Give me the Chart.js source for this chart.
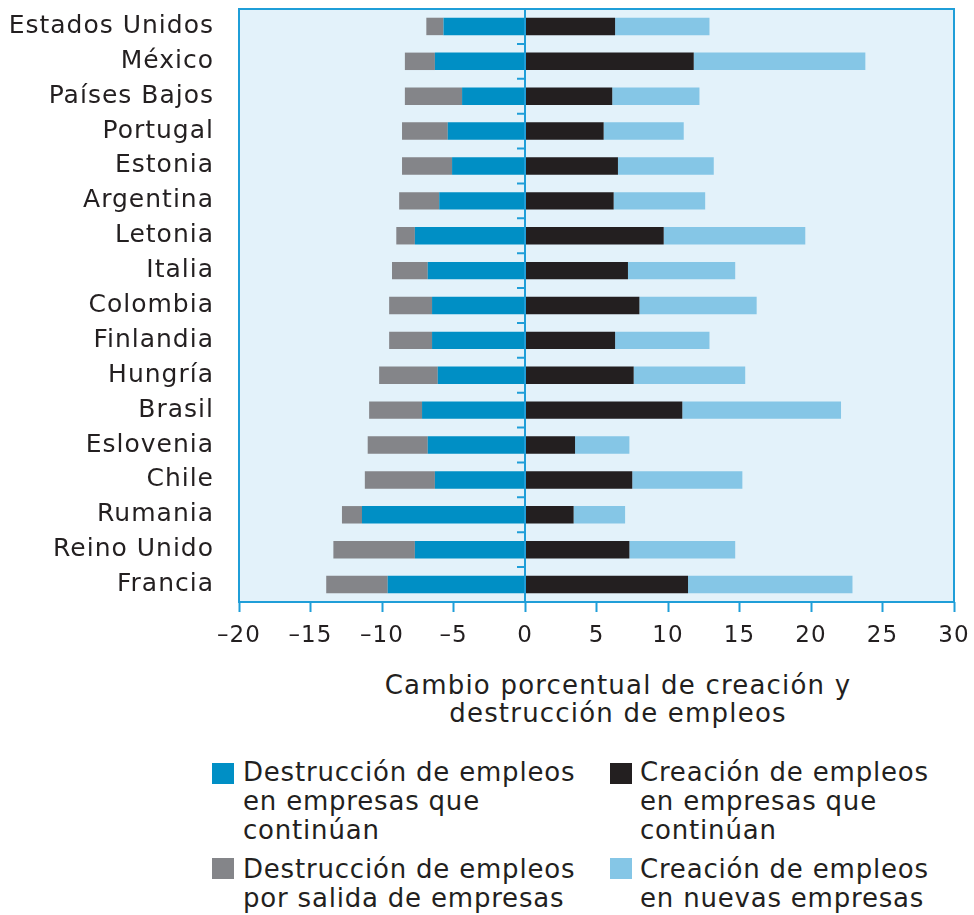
<!DOCTYPE html>
<html lang="es">
<head>
<meta charset="utf-8">
<script src="https://cdn.jsdelivr.net/npm/chart.js@4"></script>
<style>
  html, body { margin: 0; padding: 0; background: #fff; }
  #wrap { position: relative; width: 974px; height: 915px; font-family: "DejaVu Sans", sans-serif; color: #231f20; }
  #myChart { position: absolute; left: 0; top: 0; }
  .axis-title { position: absolute; left: 618px; top: 671px; transform: translateX(-50%); text-align: center; white-space: nowrap; font-size: 26px; line-height: 28px; letter-spacing: 1.2px; }
  .leg { position: absolute; font-size: 26px; line-height: 29px; letter-spacing: 0.8px; white-space: nowrap; }
  .sw { position: absolute; width: 22px; height: 21px; }
</style>
</head>
<body>
<div id="wrap">
  <canvas id="myChart" width="974" height="665"></canvas>
  <div class="axis-title">Cambio porcentual de creación y<br>destrucción de empleos</div>

  <div class="sw" style="left:212px; top:763px; background:#008fc5"></div>
  <div class="leg" style="left:243px; top:758px">Destrucción de empleos<br>en empresas que<br>continúan</div>
  <div class="sw" style="left:610px; top:763px; background:#231f20"></div>
  <div class="leg" style="left:640px; top:758px">Creación de empleos<br>en empresas que<br>continúan</div>
  <div class="sw" style="left:212px; top:858px; background:#848589"></div>
  <div class="leg" style="left:243px; top:855px">Destrucción de empleos<br>por salida de empresas</div>
  <div class="sw" style="left:610px; top:858px; background:#85c6e6"></div>
  <div class="leg" style="left:640px; top:855px">Creación de empleos<br>en nuevas empresas</div>
</div>

<script>
const countries = ['Estados Unidos', 'México', 'Países Bajos', 'Portugal', 'Estonia', 'Argentina',
  'Letonia', 'Italia', 'Colombia', 'Finlandia', 'Hungría', 'Brasil', 'Eslovenia', 'Chile',
  'Rumania', 'Reino Unido', 'Francia'];

// destrucción en empresas que continúan (negativo)
const destContinuan = [-5.7, -6.3, -4.4, -5.4, -5.1, -6.0, -7.7, -6.8, -6.5, -6.5, -6.1, -7.2, -6.8, -6.3, -11.4, -7.7, -9.6];
// destrucción por salida de empresas (negativo)
const destSalida = [-1.2, -2.1, -4.0, -3.2, -3.5, -2.8, -1.3, -2.5, -3.0, -3.0, -4.1, -3.7, -4.2, -4.9, -1.4, -5.7, -4.3];
// creación en empresas que continúan
const creaContinuan = [6.3, 11.8, 6.1, 5.5, 6.5, 6.2, 9.7, 7.2, 8.0, 6.3, 7.6, 11.0, 3.5, 7.5, 3.4, 7.3, 11.4];
// creación en nuevas empresas
const creaNuevas = [6.6, 12.0, 6.1, 5.6, 6.7, 6.4, 9.9, 7.5, 8.2, 6.6, 7.8, 11.1, 3.8, 7.7, 3.6, 7.4, 11.5];

const xTicks = [-20, -15, -10, -5, 0, 5, 10, 15, 20, 25, 30];

const frameBlue = '#1f9ed8';
const textColor = '#231f20';

// fondo, marco, línea del cero y marcas entre categorías
const plotFrame = {
  id: 'plotFrame',
  beforeDraw(chart) {
    const { ctx, chartArea: a } = chart;
    ctx.save();
    ctx.fillStyle = '#e3f2fa';
    ctx.fillRect(a.left, a.top, a.right - a.left, a.bottom - a.top);
    ctx.restore();
  },
  afterDatasetsDraw(chart) {
    const { ctx, chartArea: a, scales } = chart;
    const x0 = scales.x.getPixelForValue(0);
    ctx.save();
    ctx.strokeStyle = frameBlue;
    ctx.lineWidth = 2;
    ctx.strokeRect(a.left, a.top, a.right - a.left, a.bottom - a.top);
    ctx.beginPath();
    ctx.moveTo(x0, a.top);
    ctx.lineTo(x0, a.bottom);
    for (let i = 0; i < countries.length - 1; i++) {
      const y = (scales.y.getPixelForValue(i) + scales.y.getPixelForValue(i + 1)) / 2;
      ctx.moveTo(x0 - 8, y);
      ctx.lineTo(x0, y);
    }
    ctx.stroke();
    ctx.restore();
  },
};

const letterSpace = {
  id: 'letterSpace',
  beforeDraw(chart) {
    chart.ctx.letterSpacing = '1px';
  },
};

const config = {
  type: 'bar',
  data: {
    labels: countries,
    datasets: [
      { label: 'Destrucción de empleos en empresas que continúan', data: destContinuan, backgroundColor: '#008fc5' },
      { label: 'Destrucción de empleos por salida de empresas', data: destSalida, backgroundColor: '#848589' },
      { label: 'Creación de empleos en empresas que continúan', data: creaContinuan, backgroundColor: '#231f20' },
      { label: 'Creación de empleos en nuevas empresas', data: creaNuevas, backgroundColor: '#85c6e6' },
    ],
  },
  options: {
    indexAxis: 'y',
    responsive: false,
    animation: false,
    layout: { padding: { left: 0, right: 20, top: 9, bottom: 0 } },
    datasets: { bar: { categoryPercentage: 1, barPercentage: 0.5 } },
    plugins: {
      legend: { display: false },
      tooltip: { enabled: false },
    },
    scales: {
      x: {
        stacked: true,
        min: -20,
        max: 30,
        afterBuildTicks: (scale) => { scale.ticks = xTicks.map((v) => ({ value: v })); },
        afterFit: (scale) => { scale.height = 63; scale.paddingLeft = 0; scale.paddingRight = 0; },
        border: { display: false },
        grid: { drawOnChartArea: false, tickLength: 10, tickColor: frameBlue, tickWidth: 2 },
        ticks: {
          padding: 10,
          color: textColor,
          font: { family: 'DejaVu Sans', size: 23 },
          callback: (v) => (v < 0 ? '–' + Math.abs(v) : String(v)),
        },
      },
      y: {
        stacked: true,
        afterFit: (scale) => { scale.width = 239; scale.paddingTop = 0; scale.paddingBottom = 0; },
        border: { display: false },
        grid: { display: false, drawTicks: false },
        ticks: {
          padding: 25,
          color: textColor,
          font: { family: 'DejaVu Sans', size: 25 },
        },
      },
    },
  },
  plugins: [letterSpace, plotFrame],
};

new Chart(document.getElementById('myChart'), config);
</script>
</body>
</html>
